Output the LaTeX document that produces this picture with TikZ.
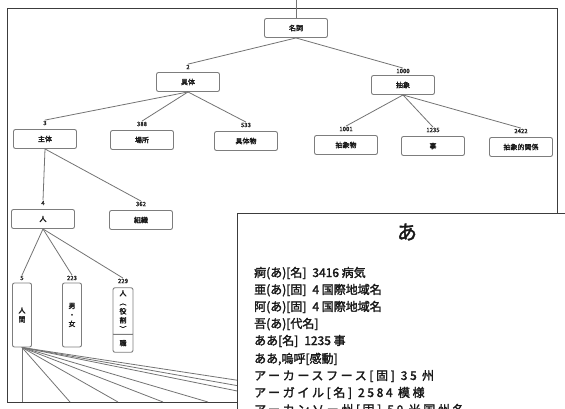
\documentclass[tikz,border=0pt]{standalone}
\usepackage{fontspec}
\newfontfamily\jp{Noto Sans CJK JP}
\newfontfamily\jpb{Noto Sans CJK JP}[FakeBold=2]
\usetikzlibrary{shapes.multipart}
\definecolor{frameGray}{RGB}{60,60,60}
\definecolor{boxGray}{RGB}{125,125,125}
\definecolor{inkGray}{RGB}{25,25,25}

\tikzset{
  cls/.style={draw=boxGray, rounded corners=2pt, line width=0.9pt, minimum width=63pt, minimum height=19pt, inner sep=1pt, text=inkGray, font=\jpb\fontsize{7}{8}\selectfont},
  vcls/.style={draw=boxGray, rounded corners=2pt, line width=0.9pt, minimum width=19pt, inner sep=2pt, align=center, text=inkGray, font=\jpb\fontsize{7}{9}\selectfont},
  num/.style={inner sep=0.5pt, text=black!85, font=\jpb\fontsize{6}{6}\selectfont},
  link/.style={draw=black!55, line width=0.8pt},
  dictline/.style={anchor=base west, inner sep=0pt, text=inkGray, font=\jpb\fontsize{12}{12}\selectfont},
  wide/.style={font=\jpb\fontsize{12}{12}\selectfont\addfontfeature{LetterSpace=22}}
}

\begin{document}
\begin{tikzpicture}[x=1pt, y=-1pt]
  \useasboundingbox (0,0) rectangle (565,408);
  \clip (0,0) rectangle (565,408);
  \draw[frameGray, line width=1pt] (7,8) rectangle (557,402);

  % top of the tree
  \coordinate (rtop) at (296,0);
  \node[cls] (root) at (296,28) {名詞};
  \node[num] (n2) at (188,67) {2};
  \node[cls] (gutai) at (188,82) {具体};
  \node[num] (n1000) at (403,71) {1000};
  \node[cls] (chusho) at (403,85) {抽象};

  \node[num] (n3) at (45,123) {3};
  \node[cls] (shutai) at (45,139) {主体};
  \node[num] (n388) at (142,124) {388};
  \node[cls] (basho) at (142,140) {場所};
  \node[num] (n533) at (246,125) {533};
  \node[cls] (gutaibutsu) at (246,141) {具体物};
  \node[num] (n1001) at (346,129) {1001};
  \node[cls] (chushobutsu) at (346,145) {抽象物};
  \node[num] (n1235) at (433,130) {1235};
  \node[cls] (koto) at (433,146) {事};
  \node[num] (n2422) at (521,131) {2422};
  \node[cls] (kankei) at (521,147) {抽象的関係};

  \node[num] (n4) at (43,203) {4};
  \node[cls] (hito) at (43,219) {人};
  \node[num] (n362) at (141,204) {362};
  \node[cls] (soshiki) at (141,220) {組織};

  \node[num] (n5) at (22,278) {5};
  \node[vcls, minimum height=64pt] (ningen) at (22,315) {人\\間};
  \node[num] (n223) at (72,278) {223};
  \node[vcls, minimum height=64pt] (danjo) at (72,315) {男\\・\\女};
  \node[num] (n229) at (123,281) {229};
  \node[vcls, minimum width=20pt, rectangle split, rectangle split parts=2] (yakuwari) at (123,320) {人\\︵\\役\\割\\︶\nodepart{two}\rule[-4pt]{0pt}{13pt}職};

  \draw[link] (rtop) -- (root.north);
  \draw[link] (root.south) -- (n2.north);
  \draw[link] (root.south) -- (n1000.north);
  \draw[link] (gutai.south) -- (n3.north);
  \draw[link] (gutai.south) -- (n388.north);
  \draw[link] (gutai.south) -- (n533.north);
  \draw[link] (chusho.south) -- (n1001.north);
  \draw[link] (chusho.south) -- (n1235.north);
  \draw[link] (chusho.south) -- (n2422.north);
  \draw[link] (shutai.south) -- (n4.north);
  \draw[link] (shutai.south) -- (n362.north);
  \draw[link] (hito.south) -- (n5.north);
  \draw[link] (hito.south) -- (n223.north);
  \draw[link] (hito.south) -- (n229.north);

  % fan below 人間
  \coordinate (f1) at (22,402);
  \coordinate (f2) at (70,402);
  \coordinate (f3) at (118,402);
  \coordinate (f4) at (163,402);
  \coordinate (f5) at (208,402);
  \coordinate (f6) at (262,396);
  \coordinate (f7) at (262,390);
  \coordinate (f8) at (262,384);
  \draw[link] (ningen.south) -- (f1);
  \draw[link] (ningen.south) -- (f2);
  \draw[link] (ningen.south) -- (f3);
  \draw[link] (ningen.south) -- (f4);
  \draw[link] (ningen.south) -- (f5);
  \draw[link] (ningen.south) -- (f6);
  \draw[link] (ningen.south) -- (f7);
  \draw[link] (ningen.south) -- (f8);

  % dictionary page on top
  \draw[frameGray, line width=1pt, fill=white] (237,213) rectangle (590,430);
  \node[text=inkGray, font=\jpb\fontsize{20}{20}\selectfont] (head) at (407,232) {あ};
  \node[dictline] (e1) at (254,277) {痾(あ)[名]\enspace 3416 病気};
  \node[dictline] (e2) at (254,294) {亜(あ)[固]\enspace 4 国際地域名};
  \node[dictline] (e3) at (254,311) {阿(あ)[固]\enspace 4 国際地域名};
  \node[dictline] (e4) at (254,328) {吾(あ)[代名]};
  \node[dictline] (e5) at (254,345) {ああ[名]\enspace 1235 事};
  \node[dictline] (e6) at (254,363) {ああ,嗚呼[感動]};
  \node[dictline, wide] (e7) at (254,380) {アーカースフース[固]\enspace 35 州};
  \node[dictline, wide] (e8) at (254,397) {アーガイル[名]\enspace 2584 模様};
  \node[dictline, wide] (e9) at (254,414) {アーカンソー州[固]\enspace 50 米国州名};
\end{tikzpicture}
\end{document}
